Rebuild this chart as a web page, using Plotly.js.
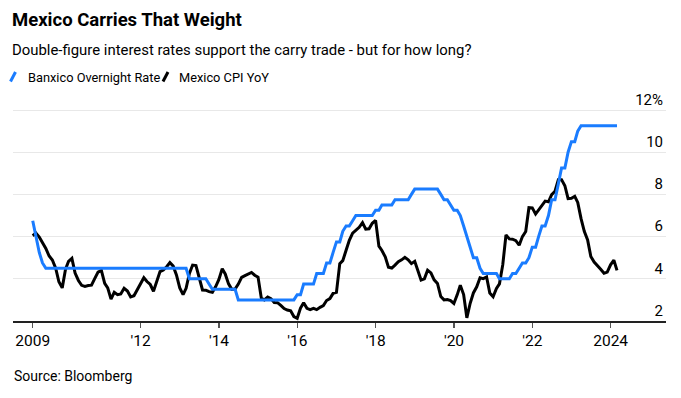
<!DOCTYPE html>
<html>
<head>
<meta charset="utf-8">
<script src="https://cdn.plot.ly/plotly-3.0.1.min.js"></script>
<style>html,body{margin:0;padding:0;background:#fff;}#chart{width:681px;height:398px;}</style>
</head>
<body>
<div id="chart"></div>
<script>
// ---- Data (monthly, Mar 2009 – Feb 2024) ----
const startYear = 2009, startMonth = 3, monthCount = 180;

const banxicoRate = [
  // 2009 (Mar-Dec)
  6.75, 6.00, 5.25, 4.75, 4.50, 4.50, 4.50, 4.50, 4.50, 4.50,
  // 2010
  4.50, 4.50, 4.50, 4.50, 4.50, 4.50, 4.50, 4.50, 4.50, 4.50, 4.50, 4.50,
  // 2011
  4.50, 4.50, 4.50, 4.50, 4.50, 4.50, 4.50, 4.50, 4.50, 4.50, 4.50, 4.50,
  // 2012
  4.50, 4.50, 4.50, 4.50, 4.50, 4.50, 4.50, 4.50, 4.50, 4.50, 4.50, 4.50,
  // 2013
  4.50, 4.50, 4.00, 4.00, 4.00, 4.00, 4.00, 4.00, 3.75, 3.50, 3.50, 3.50,
  // 2014
  3.50, 3.50, 3.50, 3.50, 3.50, 3.00, 3.00, 3.00, 3.00, 3.00, 3.00, 3.00,
  // 2015
  3.00, 3.00, 3.00, 3.00, 3.00, 3.00, 3.00, 3.00, 3.00, 3.00, 3.00, 3.25,
  // 2016
  3.25, 3.75, 3.75, 3.75, 3.75, 4.25, 4.25, 4.25, 4.75, 4.75, 5.25, 5.75,
  // 2017
  5.75, 6.25, 6.50, 6.50, 6.75, 7.00, 7.00, 7.00, 7.00, 7.00, 7.00, 7.25,
  // 2018
  7.25, 7.50, 7.50, 7.50, 7.50, 7.75, 7.75, 7.75, 7.75, 7.75, 8.00, 8.25,
  // 2019
  8.25, 8.25, 8.25, 8.25, 8.25, 8.25, 8.25, 8.00, 7.75, 7.75, 7.50, 7.25,
  // 2020
  7.25, 7.00, 6.50, 6.00, 5.50, 5.00, 5.00, 4.50, 4.25, 4.25, 4.25, 4.25,
  // 2021
  4.25, 4.00, 4.00, 4.00, 4.00, 4.25, 4.25, 4.50, 4.75, 4.75, 5.00, 5.50,
  // 2022
  5.50, 6.00, 6.50, 6.50, 7.00, 7.75, 7.75, 8.50, 9.25, 9.25, 10.00, 10.50,
  // 2023
  10.50, 11.00, 11.25, 11.25, 11.25, 11.25, 11.25, 11.25, 11.25, 11.25, 11.25, 11.25,
  // 2024 (Jan-Feb)
  11.25, 11.25
];

const mexicoCpiYoY = [
  // 2009 (Mar-Dec)
  6.04, 6.17, 5.98, 5.74, 5.44, 5.08, 4.89, 4.50, 3.86, 3.57,
  // 2010
  4.46, 4.83, 4.97, 4.27, 3.92, 3.69, 3.64, 3.68, 3.70, 4.02, 4.32, 4.40,
  // 2011
  3.78, 3.57, 3.04, 3.36, 3.25, 3.28, 3.55, 3.42, 3.14, 3.20, 3.48, 3.82,
  // 2012
  4.05, 3.87, 3.73, 3.41, 3.85, 4.34, 4.42, 4.57, 4.77, 4.60, 4.18, 3.57,
  // 2013
  3.25, 3.55, 4.25, 4.65, 4.63, 4.09, 3.47, 3.46, 3.39, 3.36, 3.62, 3.97,
  // 2014
  4.48, 4.23, 3.76, 3.50, 3.51, 3.75, 4.07, 4.15, 4.22, 4.30, 4.17, 4.08,
  // 2015
  3.07, 3.00, 3.14, 3.06, 2.88, 2.87, 2.74, 2.59, 2.52, 2.48, 2.21, 2.13,
  // 2016
  2.61, 2.87, 2.60, 2.54, 2.60, 2.54, 2.65, 2.73, 2.97, 3.06, 3.31, 3.36,
  // 2017
  4.72, 4.86, 5.35, 5.82, 6.16, 6.31, 6.44, 6.66, 6.35, 6.37, 6.63, 6.77,
  // 2018
  5.55, 5.34, 5.04, 4.55, 4.51, 4.65, 4.81, 4.90, 5.02, 4.90, 4.72, 4.83,
  // 2019
  4.37, 3.94, 4.00, 4.41, 4.28, 3.95, 3.78, 3.16, 3.00, 3.02, 2.97, 2.83,
  // 2020
  3.24, 3.70, 3.25, 2.15, 2.84, 3.33, 3.62, 4.05, 4.01, 4.09, 3.33, 3.15,
  // 2021
  3.54, 3.76, 4.67, 6.08, 5.89, 5.88, 5.81, 5.59, 6.00, 6.24, 7.37, 7.36,
  // 2022
  7.07, 7.28, 7.45, 7.68, 7.65, 7.99, 8.15, 8.70, 8.70, 8.41, 7.80, 7.82,
  // 2023
  7.91, 7.62, 6.85, 6.25, 5.84, 5.06, 4.79, 4.64, 4.45, 4.26, 4.32, 4.66,
  // 2024 (Jan-Feb)
  4.88, 4.40
];

const seriesNames = ["Banxico Overnight Rate", "Mexico CPI YoY"];
const xTickVals = ["2009-03-31", "2012-01-01", "2014-01-01", "2016-01-01", "2018-01-01", "2020-01-01", "2022-01-01", "2024-01-01"];
const xTickText = ["2009", "'12", "'14", "'16", "'18", "'20", "'22", "2024"];
const yTickVals = [2, 4, 6, 8, 10, 12];
const yTickText = ["2", "4", "6", "8", "10", "12%"];

// month-end dates
const dates = [];
for (let i = 0; i < monthCount; i++) {
  const d = new Date(Date.UTC(startYear, startMonth - 1 + i + 1, 0));
  dates.push(d.toISOString().slice(0, 10));
}

// ---- Layout helpers (pixel -> paper) ----
const W = 681, H = 398;
const M = {l: 13, r: 15, t: 85, b: 77};
const PW = W - M.l - M.r, PH = H - M.t - M.b;
const PX_PER_UNIT = 21.1;
const yTop = 2 + PH / PX_PER_UNIT;
const px = v => (v - M.l) / PW;
const py = v => (H - M.b - v) / PH;

const BLUE = "#1a7cff", BLACK = "#000000";
const REG = 'Roboto, "Liberation Sans", Arial, sans-serif';

const traces = [
  {x: dates, y: mexicoCpiYoY, type: "scatter", mode: "lines", name: seriesNames[1],
   line: {color: BLACK, width: 3}, hoverinfo: "skip"},
  {x: dates, y: banxicoRate, type: "scatter", mode: "lines", name: seriesNames[0],
   line: {color: BLUE, width: 3}, hoverinfo: "skip"}
];

const layout = {
  width: W, height: H,
  margin: M,
  paper_bgcolor: "#fff", plot_bgcolor: "#fff",
  showlegend: false,
  font: {family: REG, color: "#000", size: 15},
  xaxis: {
    type: "date",
    range: ["2008-09-28", "2025-05-31"],
    tickmode: "array", tickvals: xTickVals, ticktext: xTickText,
    showgrid: false, zeroline: false,
    showline: true, linecolor: "#222", linewidth: 1.5,
    ticks: "outside", ticklen: 5, tickwidth: 1.3, tickcolor: "#555",
    tickfont: {family: REG, size: 15.5, color: "#000"},
    ticklabelstandoff: 0
  },
  yaxis: {
    range: [2, yTop],
    side: "right",
    tickmode: "array", tickvals: yTickVals, ticktext: yTickText,
    ticklabelposition: "inside top",
    ticklabelshift: -3.5,
    showgrid: true, gridcolor: "#e8e8e8", gridwidth: 1,
    zeroline: false, showline: false, ticks: "",
    tickfont: {family: REG, size: 15, color: "#000"}
  },
  annotations: [
    {text: "<b>Mexico Carries That Weight</b>", xref: "paper", yref: "paper",
     x: px(10), y: py(20), xanchor: "left", yanchor: "middle", showarrow: false,
     font: {family: REG, size: 18.5, color: "#000"}},
    {text: "Double-figure interest rates support the carry trade - but for how long?", xref: "paper", yref: "paper",
     x: px(10), y: py(49.5), xanchor: "left", yanchor: "middle", showarrow: false,
     font: {family: REG, size: 14.9, color: "#000"}},
    {text: seriesNames[0], xref: "paper", yref: "paper",
     x: px(26), y: py(77), xanchor: "left", yanchor: "middle", showarrow: false,
     font: {family: REG, size: 12.8, color: "#000"}},
    {text: seriesNames[1], xref: "paper", yref: "paper",
     x: px(177), y: py(77), xanchor: "left", yanchor: "middle", showarrow: false,
     font: {family: REG, size: 12.8, color: "#000"}},
    {text: "Source: Bloomberg", xref: "paper", yref: "paper",
     x: px(12), y: py(376), xanchor: "left", yanchor: "middle", showarrow: false,
     font: {family: REG, size: 14, color: "#000"}}
  ],
  shapes: [
    {type: "line", xref: "paper", yref: "paper", x0: px(10.5), y0: py(81.5), x1: px(15.5), y1: py(72),
     line: {color: BLUE, width: 3}},
    {type: "line", xref: "paper", yref: "paper", x0: px(163), y0: py(81.5), x1: px(168), y1: py(72),
     line: {color: BLACK, width: 3}}
  ]
};

Plotly.newPlot("chart", traces, layout, {displayModeBar: false, staticPlot: true});
</script>
</body>
</html>
